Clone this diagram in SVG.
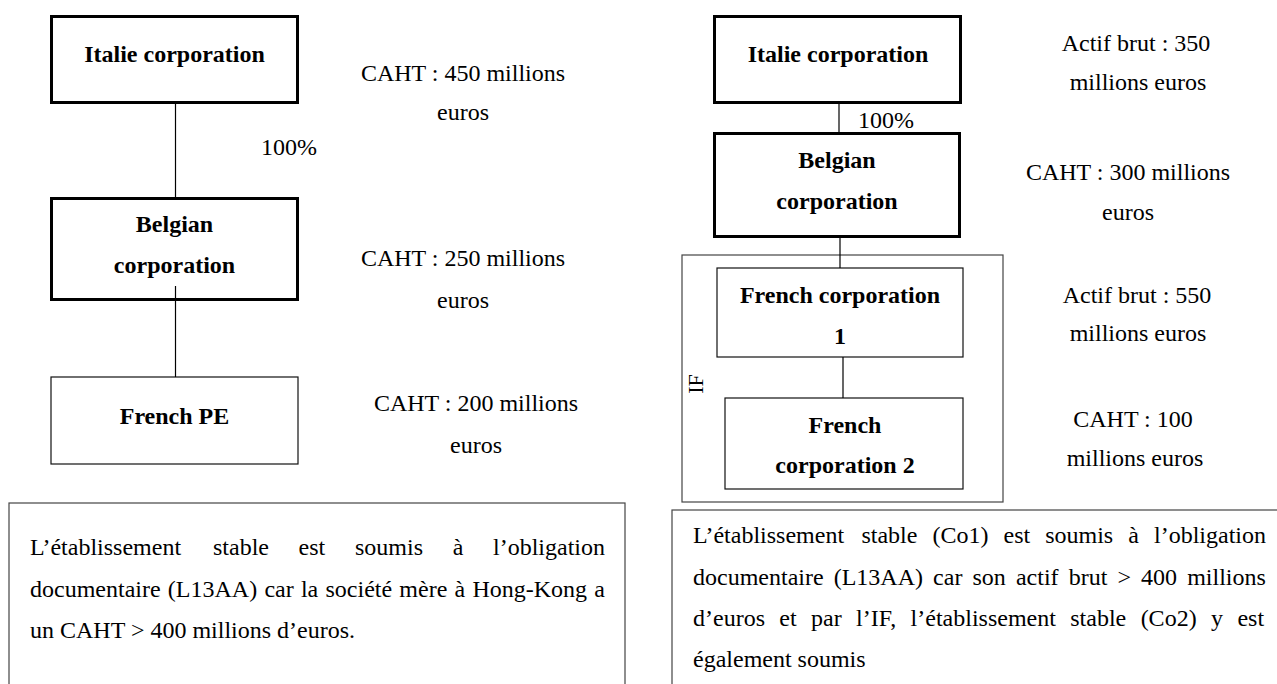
<svg xmlns="http://www.w3.org/2000/svg" width="1277" height="684" viewBox="0 0 1277 684">
  <style>
    text { font-family: "Liberation Serif", "Times New Roman", serif; font-size: 24px; fill: #000; }
    .lbl { font-weight: bold; text-anchor: middle; }
    .note { text-anchor: middle; }
    .thick { fill: #fff; stroke: #000; stroke-width: 3; }
    .thin { fill: #fff; stroke: #111; stroke-width: 1.2; }
    .frame { fill: none; stroke: #444; stroke-width: 1.2; }
    .link { stroke: #000; stroke-width: 1.2; fill: none; }
  </style>
  <rect width="1277" height="684" fill="#fff"/>

  <!-- ===== Left structure ===== -->
  <g id="left-italie">
    <rect class="thick" x="51.5" y="16.5" width="246" height="86"/>
    <text class="lbl" x="174.5" y="62">Italie corporation</text>
  </g>
  <g id="left-belgian">
    <rect class="thick" x="51.5" y="198.5" width="246" height="101"/>
    <text class="lbl" x="174.5" y="232">Belgian</text>
    <text class="lbl" x="174.5" y="273">corporation</text>
  </g>
  <g id="left-french-pe">
    <rect class="thin" x="51" y="377" width="247" height="87"/>
    <text class="lbl" x="174.5" y="424">French PE</text>
  </g>

  <!-- figures beside the left boxes -->
  <g id="left-figures">
    <text x="261" y="155">100%</text>
    <text class="note" x="463" y="81">CAHT : 450 millions</text>
    <text class="note" x="463" y="120">euros</text>
    <text class="note" x="463" y="266">CAHT : 250 millions</text>
    <text class="note" x="463" y="308">euros</text>
    <text class="note" x="476" y="411">CAHT : 200 millions</text>
    <text class="note" x="476" y="453">euros</text>
  </g>

  <!-- ===== Right structure ===== -->
  <g id="right-if-group">
    <rect class="frame" x="682" y="255" width="321" height="247"/>
    <text x="0" y="0" transform="translate(703 384) rotate(-90)" style="font-size:22px" text-anchor="middle">IF</text>
  </g>
  <g id="right-italie">
    <rect class="thick" x="714.5" y="16.5" width="246" height="86"/>
    <text class="lbl" x="838" y="62">Italie corporation</text>
  </g>
  <g id="right-belgian">
    <rect class="thick" x="714.5" y="133.5" width="245" height="103"/>
    <text class="lbl" x="837" y="168">Belgian</text>
    <text class="lbl" x="837" y="209">corporation</text>
  </g>
  <g id="right-french-1">
    <rect class="thin" x="717" y="268" width="246" height="89"/>
    <text class="lbl" x="840" y="303">French corporation</text>
    <text class="lbl" x="840" y="344">1</text>
  </g>
  <g id="right-french-2">
    <rect class="thin" x="725" y="398" width="238" height="91"/>
    <text class="lbl" x="845" y="433">French</text>
    <text class="lbl" x="845" y="473">corporation 2</text>
  </g>

  <!-- figures beside the right boxes -->
  <g id="right-figures">
    <text x="858" y="128">100%</text>
    <text class="note" x="1136" y="51">Actif brut : 350</text>
    <text class="note" x="1138" y="90">millions euros</text>
    <text class="note" x="1128" y="180">CAHT : 300 millions</text>
    <text class="note" x="1128" y="220">euros</text>
    <text class="note" x="1137" y="303">Actif brut : 550</text>
    <text class="note" x="1138" y="341">millions euros</text>
    <text class="note" x="1133" y="427">CAHT : 100</text>
    <text class="note" x="1135" y="466">millions euros</text>
  </g>

  <!-- ownership links -->
  <g id="connectors">
    <line class="link" x1="175.5" y1="104" x2="175.5" y2="197"/>
    <line class="link" x1="175.5" y1="286" x2="175.5" y2="377"/>
    <line class="link" x1="839" y1="104" x2="839" y2="132"/>
    <line class="link" x1="840" y1="238" x2="840" y2="268"/>
    <line class="link" x1="843" y1="357" x2="843" y2="398"/>
  </g>

  <!-- ===== Explanatory notes (justified lines) ===== -->
  <g id="left-note">
    <rect class="frame" x="9" y="503" width="616" height="200"/>
    <text y="555"><tspan x="30">L’établissement</tspan><tspan x="213">stable</tspan><tspan x="298.6">est</tspan><tspan x="355">soumis</tspan><tspan x="452.8">à</tspan><tspan x="493">l’obligation</tspan></text>
    <text y="597" x="30" style="word-spacing:1.24px">documentaire (L13AA) car la société mère à Hong-Kong a</text>
    <text x="30" y="638">un CAHT &gt; 400 millions d’euros.</text>
  </g>
  <g id="right-note">
    <rect class="frame" x="672" y="510" width="620" height="200"/>
    <text y="543"><tspan x="693">L’établissement</tspan><tspan x="861.4">stable</tspan><tspan x="932.4">(Co1)</tspan><tspan x="1003.5">est</tspan><tspan x="1045.2">soumis</tspan><tspan x="1128.3">à</tspan><tspan x="1154">l’obligation</tspan></text>
    <text y="585" x="693" style="word-spacing:4.1px">documentaire (L13AA) car son actif brut &gt; 400 millions</text>
    <text y="626" x="693" style="word-spacing:8.39px">d’euros et par l’IF, l’établissement stable (Co2) y est</text>
    <text x="693" y="667">également soumis</text>
  </g>
</svg>
